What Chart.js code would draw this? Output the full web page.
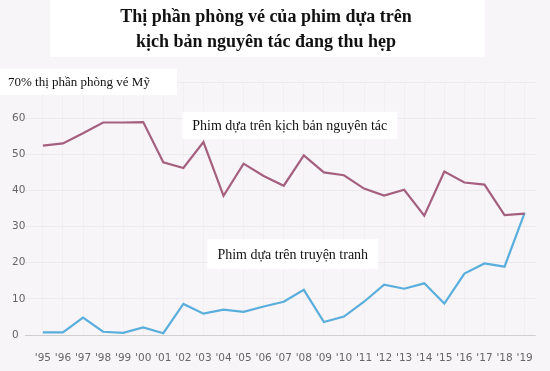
<!DOCTYPE html>
<html>
<head>
<meta charset="utf-8">
<script src="https://cdn.jsdelivr.net/npm/chart.js@4"></script>
<style>
  html, body { margin: 0; padding: 0; background: #f7f5f8; }
  #wrap { width: 550px; height: 371px; position: relative; }
</style>
</head>
<body>
<div id="wrap"><canvas id="share"></canvas></div>
<script>
var years = ["'95","'96","'97","'98","'99","'00","'01","'02","'03","'04","'05","'06",
             "'07","'08","'09","'10","'11","'12","'13","'14","'15","'16","'17","'18","'19"];
var original = [52.4, 53.0, 55.8, 58.8, 58.8, 58.9, 47.8, 46.2, 53.4, 38.5, 47.4, 44.0,
                41.3, 49.7, 45.0, 44.2, 40.5, 38.6, 40.2, 33.0, 45.2, 42.2, 41.6, 33.2, 33.6];
var comics = [0.7, 0.7, 4.8, 0.9, 0.6, 2.1, 0.5, 8.6, 5.9, 7.0, 6.4, 7.9,
              9.2, 12.5, 3.6, 5.1, 9.2, 13.9, 12.8, 14.3, 8.7, 17.0, 19.8, 18.9, 33.8];
var titleLines = ["Thị phần phòng vé của phim dựa trên", "kịch bản nguyên tác đang thu hẹp"];
var yLabelTop = "70% thị phần phòng vé Mỹ";
var seriesNames = ["Phim dựa trên kịch bản nguyên tác", "Phim dựa trên truyện tranh"];

function points(arr) {
    var out = [];
    for (var i = 0; i < arr.length; i++) out.push({x: i, y: arr[i]});
    return out;
}

function box(ctx, text, cx, cy, padX, h, font) {
    ctx.font = font;
    var w = ctx.measureText(text).width + padX * 2;
    ctx.fillStyle = '#ffffff';
    ctx.fillRect(cx - w / 2, cy - h / 2, w, h);
    ctx.fillStyle = '#111111';
    ctx.textAlign = 'center';
    ctx.textBaseline = 'middle';
    ctx.fillText(text, cx, cy + 1);
}

var decor = {
    id: 'decor',
    afterDraw: function(chart) {
        var ctx = chart.ctx;
        var xs = chart.scales.x, ys = chart.scales.y;
        ctx.save();
        // title
        ctx.fillStyle = '#ffffff';
        ctx.fillRect(50, 0, 435, 57);
        ctx.fillStyle = '#111111';
        ctx.textAlign = 'center';
        ctx.textBaseline = 'middle';
        ctx.font = 'bold 18px "Liberation Serif"';
        ctx.fillText(titleLines[0], 266, 17);
        ctx.fillText(titleLines[1], 266, 42);
        // top y label
        var y70 = ys.getPixelForValue(70);
        ctx.fillStyle = '#ffffff';
        ctx.fillRect(0, y70 - 13, 177, 26);
        ctx.fillStyle = '#111111';
        ctx.textAlign = 'left';
        ctx.font = '13px "Liberation Serif"';
        ctx.fillText(yLabelTop, 8, y70 + 1);
        // series labels
        box(ctx, seriesNames[0], xs.getPixelForValue(12.3), ys.getPixelForValue(58), 10, 27, '14px "Liberation Serif"');
        box(ctx, seriesNames[1], xs.getPixelForValue(12.45), ys.getPixelForValue(22.4), 10, 30, '14px "Liberation Serif"');
        ctx.restore();
    }
};

var ctx = document.getElementById('share').getContext('2d');
var chart = new Chart(ctx, {
    type: 'line',
    data: {
        datasets: [{
            label: seriesNames[0],
            data: points(original),
            borderColor: '#a5607f',
            borderWidth: 2.2,
            pointRadius: 0,
            tension: 0
        }, {
            label: seriesNames[1],
            data: points(comics),
            borderColor: '#5aaedc',
            borderWidth: 2.2,
            pointRadius: 0,
            tension: 0
        }]
    },
    options: {
        responsive: true,
        maintainAspectRatio: false,
        animation: false,
        layout: { padding: { left: 12, right: 12, top: 82, bottom: 6 } },
        plugins: {
            legend: { display: false },
            tooltip: { enabled: false }
        },
        scales: {
            x: {
                type: 'linear',
                min: -0.89,
                max: 24.55,
                afterFit: function(s) { s.height = 30; },
                border: { display: false },
                grid: { color: 'rgba(0,0,0,0.025)', drawTicks: false },
                ticks: {
                    stepSize: 1,
                    includeBounds: false,
                    autoSkip: false,
                    maxRotation: 0,
                    padding: 17,
                    color: '#666666',
                    font: { family: 'DejaVu Sans', size: 10.5 },
                    callback: function(v) {
                        return Number.isInteger(v) ? years[v] : '';
                    }
                }
            },
            y: {
                min: 0,
                max: 70,
                afterFit: function(s) { s.width = 13; },
                border: { display: false },
                grid: {
                    drawTicks: false,
                    color: function(c) {
                        return c.tick && c.tick.value === 0 ? '#cfcfcf' : 'rgba(0,0,0,0.045)';
                    }
                },
                ticks: {
                    stepSize: 10,
                    crossAlign: 'far',
                    color: '#666666',
                    font: { family: 'DejaVu Sans', size: 10.5 },
                    callback: function(v) { return v === 70 ? '' : v; }
                }
            }
        }
    },
    plugins: [decor]
});
</script>
</body>
</html>
